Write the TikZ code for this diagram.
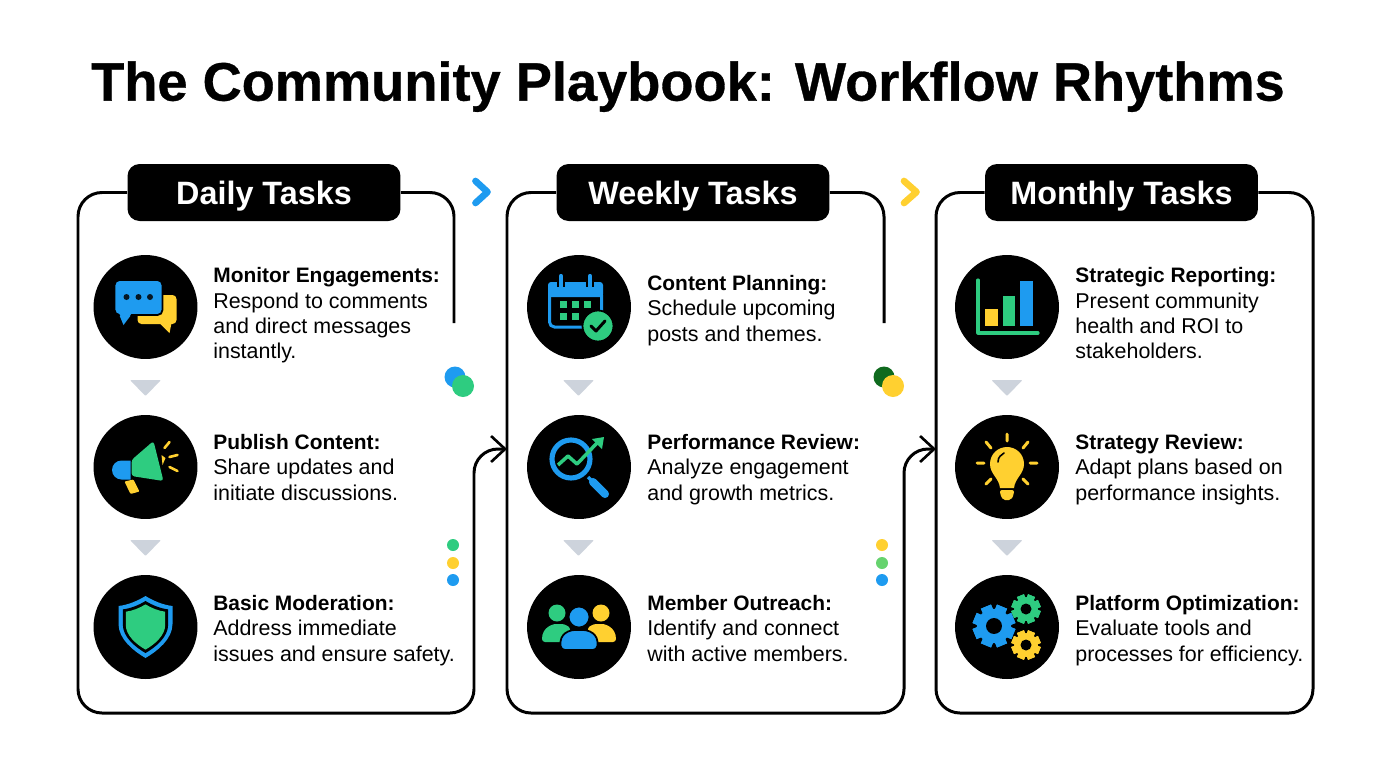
\documentclass[tikz,border=0pt]{standalone}
\usepackage{fontspec}
\usepackage{xcolor}
\setmainfont{Liberation Sans}
\usetikzlibrary{arrows.meta,positioning,calc}

\definecolor{iblue}{HTML}{1E9BF0}
\definecolor{igreen}{HTML}{2ECC80}
\definecolor{iyellow}{HTML}{FFD030}
\definecolor{igrey}{HTML}{CDD3DC}
\definecolor{ilime}{HTML}{66D36E}
\definecolor{idark}{HTML}{0F6A1E}

% first line of an item
\newcommand{\itemhead}[1]{{\fontsize{11.9}{14.35}\selectfont\bfseries #1}}

% one cog of the settings icon: x, y, radius, colour
\newcommand{\cogwheel}[4]{
    \foreach \a in {0,45,...,315}
        \fill[#4, rotate around={\a+22.5:(#1,#2)}] ($(#1,#2)+(-0.26*#3,-#3)$) rectangle ($(#1,#2)+(0.26*#3,#3)$);
    \fill[#4] (#1,#2) circle[radius=0.82*#3];
    \fill[black] (#1,#2) circle[radius=0.38*#3];
}

\begin{document}
\begin{tikzpicture}[
    x=0.02cm, y=-0.02cm,
    title/.style={font=\fontsize{30.85}{36}\selectfont\bfseries\addfontfeature{FakeBold=0.6}, inner sep=0pt, text depth=0pt},
    head/.style={fill=black, text=white, rounded corners=0.24cm, minimum width=5.46cm, minimum height=1.14cm, inner sep=0pt, text height=13.2pt, text depth=0pt, font=\fontsize{18.4}{22}\selectfont\bfseries},
    disc/.style={circle, fill=black, minimum size=2.08cm, inner sep=0pt},
    item/.style={anchor=west, align=left, inner sep=0pt, font=\fontsize{12.2}{14.35}\selectfont, execute at begin node=\strut, execute at end node=\strut},
    panel/.style={line width=1.7pt, rounded corners=0.48cm},
    link/.style={panel, -{Straight Barb[length=0.28cm, width=0.52cm, line width=1.5pt]}},
    chev/.style={line width=3.8pt, line cap=round, line join=round},
    drop/.style={fill=igrey, rounded corners=0.02cm},
    chaticon/.pic={
        \fill[iyellow, rounded corners=0.08cm] (10,-12) -- (31,-12) -- (31,17) -- (-8,17) -- (-8,0) -- cycle;
        \fill[iyellow] (14,16) -- (26,16) -- (24,26) -- cycle;
        \fill[iblue] (-27,6) -- (-13,6) -- (-22,18) -- cycle;
        \filldraw[iblue, draw=black, line width=1pt, rounded corners=0.1cm] (-31,-27) -- (17,-27) -- (17,8) -- (-31,8) -- cycle;
        \fill[iblue] (-27,5) -- (-13,5) -- (-17,11) -- (-24,11) -- cycle;
        \foreach \x in {-19,-7,4.5} \fill[black!85!iblue] (\x,-10) circle[radius=3];
    },
    hornicon/.pic={
        \fill[iblue] (-15,-6.5) -- (-24,-6.5) arc[start angle=-90, end angle=-270, radius=9.5] -- (-15,12.5) -- cycle;
        \fill[igreen, rounded corners=0.06cm] (-14,-7) -- (8,-26) -- (18,14) -- (-14,9) -- cycle;
        \fill[iyellow, rounded corners=0.02cm] (-21,14.5) -- (-12,12.5) -- (-6,24.5) -- (-15,27) -- cycle;
        \fill[iyellow] (16,-12) -- (20,-9) -- (17,-2) -- cycle;
        \draw[iyellow, line width=1.5pt, line cap=round] (19,-19) -- (24,-25) (24,-10) -- (32,-12) (24,0) -- (32,4);
    },
    shieldicon/.pic={
        \foreach \c/\s in {iblue/1, black/0.84, igreen/0.73}
            \fill[\c, scale=\s] (0,-31) .. controls (8,-26) and (18,-22) .. (27,-21) -- (27,-3) .. controls (27,12) and (12,24) .. (0,31) .. controls (-12,24) and (-27,12) .. (-27,-3) -- (-27,-21) .. controls (-18,-22) and (-8,-26) .. (0,-31) -- cycle;
    },
    calicon/.pic={
        \draw[iblue, line width=1.7pt, rounded corners=0.1cm] (-29.5,-17) rectangle (22.5,20);
        \fill[iblue, rounded corners=0.06cm] (-31,-25) rectangle (24,-10);
        \foreach \x in {-18,11} \draw[iblue, line width=2.4pt, line cap=round, preaction={draw=black, line width=4pt}] (\x,-31) -- (\x,-20);
        \foreach \x/\y in {-16/-3,-4/-3,8/-3,-16/9,-4/9} \fill[igreen] (\x-3.5,\y-3.5) rectangle (\x+3.5,\y+3.5);
        \filldraw[igreen, draw=black, line width=1pt] (19,19) circle[radius=15.5];
        \draw[black, line width=1.7pt, line cap=round, line join=round] (12,19) -- (17,24) -- (26,14);
    },
    lensicon/.pic={
        \draw[iblue, line width=2.9pt] (-8,-8) circle[radius=19];
        \draw[iblue, line width=1.9pt] (9,10) -- (17,18);
        \draw[iblue, line width=4.6pt, line cap=round] (14,15) -- (26,27);
        \draw[igreen, line width=2pt, line join=round] (-21,-2) -- (-11,-11) -- (-2,-3) -- (18,-24);
        \fill[igreen] (13,-28) -- (25,-30) -- (23,-18) -- cycle;
    },
    crowdicon/.pic={
        \fill[igreen] (-22,-14) circle[radius=8.5];
        \fill[iyellow] (22,-14) circle[radius=8.5];
        \fill[igreen, rounded corners=0.06cm] (-37,15) .. controls (-37,0) and (-26,-3) .. (-20,-3) .. controls (-14,-3) and (-10,0) .. (-8,2) -- (-14,15) -- cycle;
        \fill[iyellow, rounded corners=0.06cm] (37,15) .. controls (37,0) and (26,-3) .. (20,-3) .. controls (14,-3) and (10,0) .. (8,2) -- (14,15) -- cycle;
        \filldraw[iblue, draw=black, line width=1pt] (0,-10) circle[radius=10.5];
        \filldraw[iblue, draw=black, line width=1pt, rounded corners=0.08cm] (-18,23) .. controls (-20,6) and (-9,3) .. (0,3) .. controls (9,3) and (20,6) .. (18,23) -- cycle;
    },
    barsicon/.pic={
        \draw[igreen, line width=1.8pt, line cap=round, line join=round] (-29,-27) -- (-29,26) -- (31,26);
        \fill[iyellow] (-22,2) rectangle (-9,19);
        \fill[igreen] (-4,-11) rectangle (8,19);
        \fill[iblue] (13,-26) rectangle (26,19);
    },
    bulbicon/.pic={
        \fill[iyellow] (-7,21) .. controls (-8,11) and (-17,7) .. (-17,-3) .. controls (-17,-13) and (-9,-20) .. (0,-20) .. controls (9,-20) and (17,-13) .. (17,-3) .. controls (17,7) and (8,11) .. (7,21) -- cycle;
        \fill[iyellow, rounded corners=0.04cm] (-7,23) -- (7,23) -- (7,27) -- (4,33) -- (-4,33) -- (-7,27) -- cycle;
        \draw[black, line width=0.9pt, line cap=round] (-9,-5) .. controls (-9,-10) and (-6,-12) .. (-3,-14);
        \draw[iyellow, line width=1.7pt, line cap=round] (0,-33) -- (0,-26) (-30,-4) -- (-23,-4) (30,-4) -- (23,-4) (-21,-25) -- (-16,-19) (21,-25) -- (16,-19) (-21,17) -- (-16,12) (21,17) -- (16,12);
    },
    gearsicon/.pic={
        \cogwheel{-13}{-1}{21}{iblue}
        \cogwheel{19}{-18}{14.5}{igreen}
        \cogwheel{19}{18}{14.5}{iyellow}
    }
]
    \useasboundingbox[fill=white] (0,0) rectangle (1376,768);

    \node[title] (heading) at (688,81) {The Community Playbook: Workflow Rhythms};

    % column heads
    \node[head] (daily) at (264,192.5) {Daily Tasks};
    \node[head] (weekly) at (693,192.5) {Weekly Tasks};
    \node[head] (monthly) at (1121.5,192.5) {Monthly Tasks};

    % frames, two of them run on into the next column
    \coordinate (dailyend) at (454,323);
    \coordinate (weeklyend) at (884,323);
    \coordinate (dailybase) at (78,713);
    \coordinate (weeklybase) at (507,713);
    \coordinate (monthlybase) at (936,713);
    \coordinate (dailyturn) at (474,449);
    \coordinate (weeklyturn) at (904,449);
    \coordinate (weeklyin) at (507,449);
    \coordinate (monthlyin) at (936,449);
    \coordinate (monthlyside) at (1313,192.5);

    \draw[panel] (daily.east) -| (dailyend);
    \draw[link] (daily.west) -| (dailybase) -| (dailyturn) -- (weeklyin);
    \draw[panel] (weekly.east) -| (weeklyend);
    \draw[link] (weekly.west) -| (weeklybase) -| (weeklyturn) -- (monthlyin);
    \draw[panel] (monthly.west) -| (monthlybase) -| (monthlyside) -- (monthly.east);

    % first column
    \node[disc] (monitor) at (145.5,307) {};
    \node[disc] (publish) at (145.5,467) {};
    \node[disc] (moderate) at (145.5,627) {};
    \pic at (monitor) {chaticon};
    \pic at (publish) {hornicon};
    \pic at (moderate) {shieldicon};
    \node[item] (monitortext) at (213,317) {\itemhead{Monitor Engagements:}\\Respond to comments\\and direct messages\\instantly.};
    \node[item] (publishtext) at (213,471) {\itemhead{Publish Content:}\\Share updates and\\initiate discussions.};
    \node[item] (moderatetext) at (213,632) {\itemhead{Basic Moderation:}\\Address immediate\\issues and ensure safety.};

    % second column
    \node[disc] (plan) at (579,307) {};
    \node[disc] (review) at (579,467) {};
    \node[disc] (outreach) at (579,627) {};
    \pic at (plan) {calicon};
    \pic at (review) {lensicon};
    \pic at (outreach) {crowdicon};
    \node[item] (plantext) at (647,312) {\itemhead{Content Planning:}\\Schedule upcoming\\posts and themes.};
    \node[item] (reviewtext) at (647,471) {\itemhead{Performance Review:}\\Analyze engagement\\and growth metrics.};
    \node[item] (outreachtext) at (647,632) {\itemhead{Member Outreach:}\\Identify and connect\\with active members.};

    % third column
    \node[disc] (report) at (1007,307) {};
    \node[disc] (strategy) at (1007,467) {};
    \node[disc] (platform) at (1007,627) {};
    \pic at (report) {barsicon};
    \pic at (strategy) {bulbicon};
    \pic at (platform) {gearsicon};
    \node[item] (reporttext) at (1075,317) {\itemhead{Strategic Reporting:}\\Present community\\health and ROI to\\stakeholders.};
    \node[item] (strategytext) at (1075,471) {\itemhead{Strategy Review:}\\Adapt plans based on\\performance insights.};
    \node[item] (platformtext) at (1075,632) {\itemhead{Platform Optimization:}\\Evaluate tools and\\processes for efficiency.};

    % grey markers between the rows
    \foreach \x in {145.5,578.5,1007} {
        \foreach \y in {380,540} {
            \fill[drop] (\x-15.5,\y) -- (\x+15.5,\y) -- (\x,\y+16) -- cycle;
        }
    }

    % chevrons
    \draw[chev, iblue] (475.5,181) -- (487.5,192) -- (475.5,203);
    \draw[chev, iyellow] (904,181) -- (916.5,192) -- (904,203);

    % spots
    \fill[iblue] (455,377) circle[radius=10.5];
    \fill[igreen] (463,386) circle[radius=11];
    \fill[idark] (884,377) circle[radius=10.5];
    \fill[iyellow] (893,386) circle[radius=11];
    \foreach \y/\c in {545/igreen, 563/iyellow, 580/iblue} {
        \fill[\c] (453,\y) circle[radius=6];
    }
    \foreach \y/\c in {545/iyellow, 563/ilime, 580/iblue} {
        \fill[\c] (882,\y) circle[radius=6];
    }
\end{tikzpicture}
\end{document}
